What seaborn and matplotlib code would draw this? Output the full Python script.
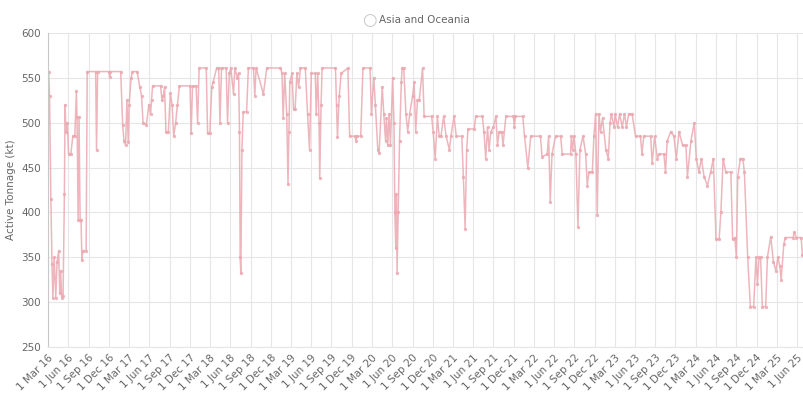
import pandas as pd
import seaborn as sns
import matplotlib.pyplot as plt

# Breakpoints (date, active tonnage in kt)
dates = [
    "2016-03-01", "2016-03-04", "2016-03-08", "2016-03-14", "2016-03-19", "2016-03-23", "2016-03-29",
    "2016-04-05", "2016-04-11", "2016-04-18", "2016-04-23", "2016-04-27", "2016-05-02", "2016-05-08",
    "2016-05-14", "2016-05-17", "2016-05-21", "2016-05-27", "2016-06-02", "2016-06-12", "2016-06-21",
    "2016-06-30", "2016-07-07", "2016-07-10", "2016-07-15", "2016-07-19", "2016-07-24", "2016-07-28",
    "2016-08-01", "2016-08-05", "2016-08-20", "2016-08-25", "2016-10-02", "2016-10-06", "2016-10-11",
    "2016-12-01", "2016-12-04", "2016-12-07", "2017-01-23", "2017-02-01", "2017-02-07", "2017-02-14",
    "2017-02-20", "2017-02-26", "2017-03-02", "2017-03-11", "2017-03-17", "2017-04-07", "2017-04-19",
    "2017-04-27", "2017-05-04", "2017-05-19", "2017-05-30", "2017-06-07", "2017-06-11", "2017-06-16",
    "2017-07-22", "2017-07-28", "2017-08-03", "2017-08-09", "2017-08-15", "2017-08-26", "2017-09-04",
    "2017-09-12", "2017-09-19", "2017-09-28", "2017-10-06", "2017-10-15", "2017-12-02", "2017-12-07",
    "2017-12-13", "2017-12-29", "2018-01-05", "2018-01-12", "2018-02-13", "2018-02-19", "2018-03-01",
    "2018-03-10", "2018-03-16", "2018-04-01", "2018-04-10", "2018-04-16", "2018-04-23", "2018-05-14",
    "2018-05-20", "2018-05-28", "2018-06-04", "2018-06-16", "2018-06-22", "2018-07-03", "2018-07-09",
    "2018-07-13", "2018-07-16", "2018-07-19", "2018-07-24", "2018-07-30", "2018-08-14", "2018-08-22",
    "2018-09-14", "2018-09-20", "2018-09-26", "2018-10-29", "2018-11-13", "2019-01-14", "2019-01-21",
    "2019-01-26", "2019-02-02", "2019-02-11", "2019-02-17", "2019-02-21", "2019-02-25", "2019-03-07",
    "2019-03-14", "2019-03-21", "2019-03-29", "2019-04-06", "2019-04-14", "2019-05-06", "2019-05-16",
    "2019-05-25", "2019-06-02", "2019-06-20", "2019-06-24", "2019-07-01", "2019-07-07", "2019-07-10",
    "2019-07-16", "2019-07-21", "2019-09-19", "2019-09-24", "2019-09-28", "2019-10-06", "2019-10-15",
    "2019-11-14", "2019-11-22", "2019-12-16", "2019-12-20", "2019-12-26", "2020-01-11", "2020-01-21",
    "2020-02-22", "2020-02-28", "2020-03-10", "2020-03-17", "2020-03-28", "2020-04-03", "2020-04-17",
    "2020-04-24", "2020-05-02", "2020-05-06", "2020-05-12", "2020-05-18", "2020-05-24", "2020-06-03",
    "2020-06-09", "2020-06-13", "2020-06-17", "2020-06-20", "2020-06-23", "2020-06-28", "2020-07-04",
    "2020-07-12", "2020-07-16", "2020-07-23", "2020-08-02", "2020-08-10", "2020-08-19", "2020-09-01",
    "2020-09-08", "2020-09-15", "2020-09-23", "2020-10-01", "2020-10-16", "2020-10-23", "2020-11-26",
    "2020-12-03", "2020-12-12", "2020-12-22", "2020-12-30", "2021-01-07", "2021-01-19", "2021-01-30",
    "2021-02-14", "2021-02-21", "2021-03-07", "2021-03-17", "2021-04-11", "2021-04-18", "2021-04-26",
    "2021-05-03", "2021-05-09", "2021-06-06", "2021-06-13", "2021-07-13", "2021-07-20", "2021-07-28",
    "2021-08-05", "2021-08-12", "2021-08-20", "2021-08-31", "2021-09-12", "2021-09-19", "2021-09-27",
    "2021-10-08", "2021-10-14", "2021-10-27", "2021-11-30", "2021-12-04", "2021-12-09", "2022-01-11",
    "2022-01-19", "2022-02-03", "2022-02-16", "2022-04-01", "2022-04-08", "2022-05-01", "2022-05-08",
    "2022-05-15", "2022-05-23", "2022-06-08", "2022-07-01", "2022-07-08", "2022-08-15", "2022-08-18",
    "2022-08-24", "2022-08-30", "2022-09-08", "2022-09-17", "2022-09-26", "2022-10-10", "2022-10-22",
    "2022-10-29", "2022-11-06", "2022-11-21", "2022-11-28", "2022-12-06", "2022-12-13", "2022-12-21",
    "2022-12-28", "2023-01-06", "2023-01-21", "2023-02-01", "2023-02-09", "2023-02-15", "2023-02-27",
    "2023-03-04", "2023-03-15", "2023-03-24", "2023-04-05", "2023-04-15", "2023-04-24", "2023-05-04",
    "2023-05-19", "2023-06-04", "2023-06-26", "2023-07-03", "2023-07-11", "2023-08-11", "2023-08-18",
    "2023-08-29", "2023-09-10", "2023-09-18", "2023-10-10", "2023-10-17", "2023-10-25", "2023-11-10",
    "2023-11-24", "2023-12-05", "2023-12-17", "2024-01-02", "2024-01-17", "2024-01-24", "2024-02-09",
    "2024-02-24", "2024-03-04", "2024-03-16", "2024-03-27", "2024-04-08", "2024-04-23", "2024-05-08",
    "2024-05-20", "2024-06-01", "2024-06-15", "2024-06-23", "2024-07-03", "2024-07-15", "2024-08-07",
    "2024-08-15", "2024-08-25", "2024-09-01", "2024-09-07", "2024-09-19", "2024-09-30", "2024-10-07",
    "2024-10-22", "2024-11-03", "2024-11-18", "2024-11-28", "2024-12-05", "2024-12-12", "2024-12-19",
    "2024-12-27", "2025-01-11", "2025-01-19", "2025-02-03", "2025-02-15", "2025-02-26", "2025-03-07",
    "2025-03-16", "2025-03-22", "2025-04-03", "2025-04-10", "2025-05-15", "2025-05-20", "2025-05-29",
    "2025-06-20", "2025-06-26", "2025-07-03",
]
tonnage = [
    557, 557, 530, 415, 343, 305, 350,
    305, 345, 357, 310, 335, 305, 307,
    420, 520, 490, 500, 465, 465, 485,
    485, 535, 506, 392, 506, 392, 392,
    347, 357, 357, 557, 557, 470, 557,
    557, 551, 557, 557, 497, 480, 475,
    525, 478, 520, 550, 557, 557, 540,
    530, 500, 498, 520, 510, 525, 541,
    541, 525, 530, 540, 490, 490, 533,
    520, 485, 500, 520, 541, 541, 488,
    541, 541, 500, 561, 561, 488, 488,
    540, 545, 561, 561, 500, 561, 561,
    500, 555, 561, 532, 561, 550, 555,
    490, 350, 332, 470, 512, 512, 561,
    561, 530, 561, 532, 561, 561, 555,
    505, 555, 510, 432, 490, 545, 555,
    515, 515, 555, 540, 561, 561, 510,
    470, 555, 555, 510, 555, 500, 438,
    520, 561, 561, 520, 484, 530, 555,
    561, 485, 485, 480, 485, 485, 561,
    561, 510, 550, 520, 470, 466, 540,
    510, 480, 505, 475, 510, 475, 550,
    500, 400, 360, 420, 332, 400, 480,
    545, 561, 561, 510, 490, 510, 530,
    545, 490, 525, 525, 561, 507, 507,
    490, 460, 507, 485, 485, 507, 485,
    470, 485, 507, 485, 485, 440, 382,
    470, 493, 493, 507, 507, 490, 460,
    495, 470, 490, 495, 507, 475, 490,
    490, 475, 507, 507, 495, 507, 507,
    485, 450, 485, 485, 462, 465, 485,
    412, 465, 485, 485, 465, 465, 485,
    470, 485, 465, 384, 470, 485, 465,
    430, 445, 445, 485, 510, 397, 510,
    490, 505, 470, 460, 500, 510, 495,
    510, 495, 510, 495, 510, 495, 510,
    510, 485, 485, 465, 485, 485, 455,
    485, 460, 465, 465, 445, 480, 490,
    485, 460, 490, 475, 475, 440, 480,
    500, 460, 445, 460, 440, 430, 445,
    460, 370, 370, 400, 460, 445, 445,
    370, 372, 350, 440, 460, 460, 445,
    350, 295, 295, 350, 320, 350, 350,
    295, 295, 350, 373, 345, 335, 350,
    340, 325, 365, 372, 372, 378, 372,
    372, 352, 352,
]
series_name = "Asia and Oceania"

df = pd.DataFrame({"date": pd.to_datetime(dates), "tonnage": tonnage})

sns.set_style("white")
plt.rcParams["font.family"] = ["DejaVu Sans"]

line_color = "#eaa9b1"
text_color = "#666666"
grid_color = "#e6e6e6"

fig = plt.figure(figsize=(8.04, 3.96), dpi=100)
ax = fig.add_axes([0.0597, 0.1237, 0.9403, 0.793])

sns.lineplot(data=df, x="date", y="tonnage", ax=ax, color=line_color,
             linewidth=1.1, marker="o", markersize=2.4, markeredgewidth=0,
             alpha=0.85)

ticks = pd.date_range("2016-03-01", "2025-06-01", freq="3MS")
ax.set_xticks(ticks)
ax.set_xticklabels([f"{d.day} {d:%b %y}" for d in ticks], rotation=45,
                   ha="right", rotation_mode="anchor", fontsize=7.5, color=text_color)
ax.set_xlim(pd.Timestamp("2016-03-01"), pd.Timestamp("2025-07-03"))

ax.set_ylim(250, 600)
ax.set_yticks(range(250, 601, 50))
ax.tick_params(axis="y", labelsize=7.5, labelcolor=text_color, length=0, pad=5)
ax.tick_params(axis="x", length=0, pad=4)

ax.grid(True, color=grid_color, linewidth=0.8)
ax.set_axisbelow(True)
for side in ["top", "right"]:
    ax.spines[side].set_visible(False)
ax.spines["left"].set_color("#c8c8c8")
ax.spines["bottom"].set_color(grid_color)

ax.set_xlabel("")
ax.set_ylabel("Active Tonnage (kt)", fontsize=7.5, color=text_color, labelpad=4)

# legend at top centre: hollow circle + label
fig.text(0.459, 0.949, "\u25cb", fontsize=12, color="#c8c8c8", ha="center", va="center")
fig.text(0.472, 0.949, series_name, fontsize=7.5, color=text_color, ha="left", va="center")

fig.savefig("out.png", dpi=100)
